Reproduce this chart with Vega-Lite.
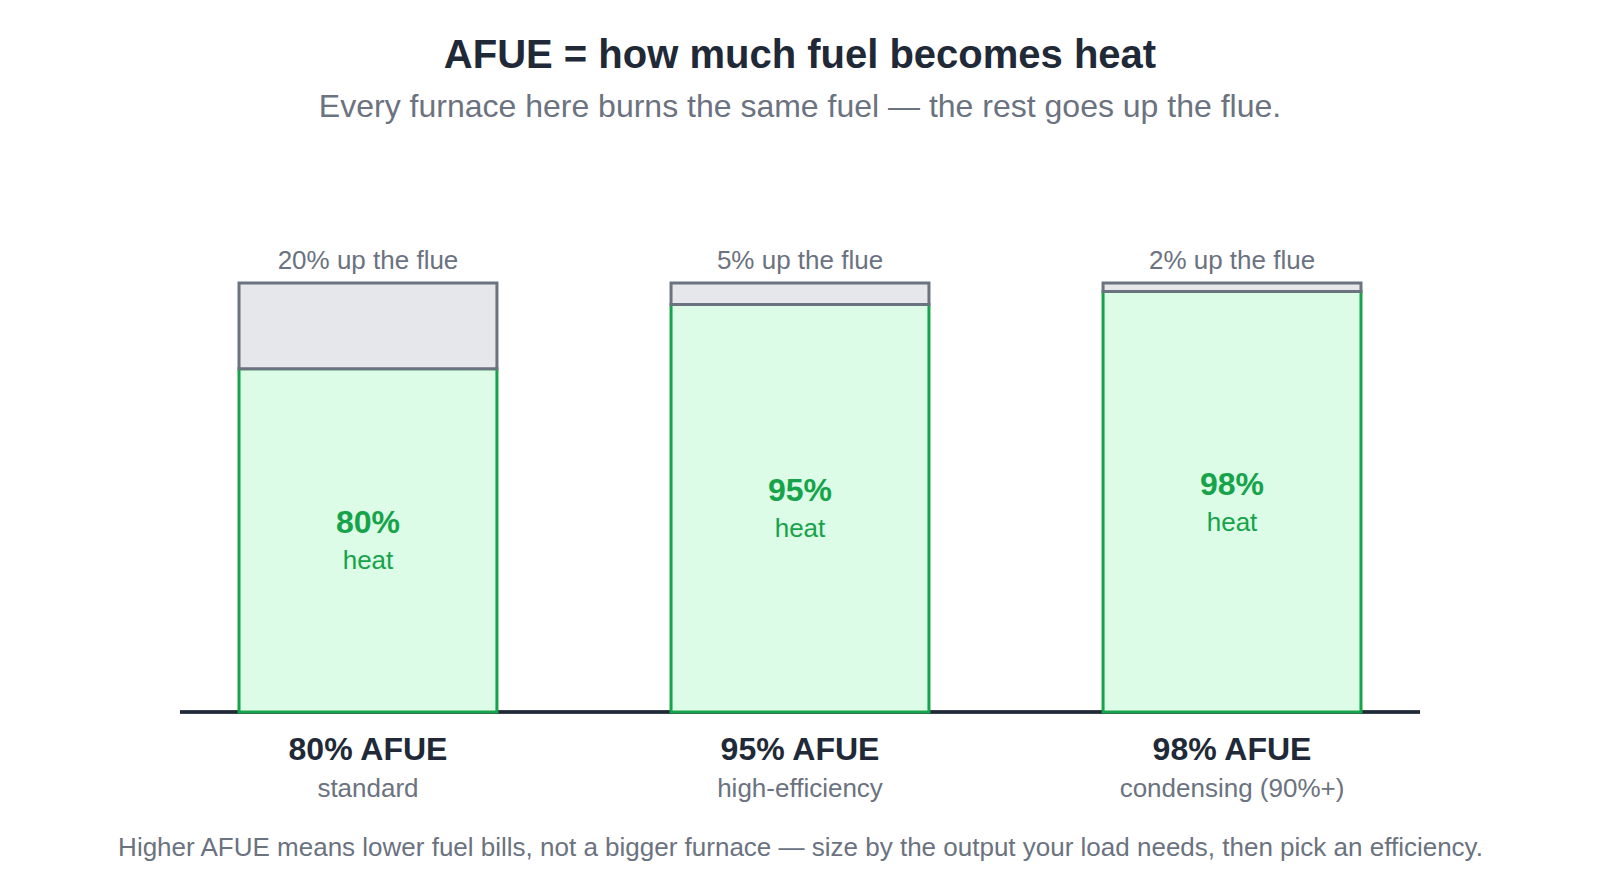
{
  "$schema": "https://vega.github.io/schema/vega-lite/v6.json",
  "width": 1240,
  "height": 429,
  "autosize": {"type": "none"},
  "padding": {"left": 180, "right": 180, "top": 283, "bottom": 168},
  "background": "#ffffff",
  "title": {
    "text": "AFUE = how much fuel becomes heat",
    "subtitle": "Every furnace here burns the same fuel — the rest goes up the flue.",
    "anchor": "middle",
    "frame": "group",
    "font": "Liberation Sans",
    "fontSize": 40,
    "fontWeight": "bold",
    "color": "#1f2937",
    "subtitleFont": "Liberation Sans",
    "subtitleFontSize": 32,
    "subtitleColor": "#6b7280",
    "subtitlePadding": 16,
    "offset": 125
  },
  "data": {
    "values": [
      {"rating": "80% AFUE", "kind": "standard", "heat": 80, "flue": 20, "heatText": "80%", "flueText": "20% up the flue"},
      {"rating": "95% AFUE", "kind": "high-efficiency", "heat": 95, "flue": 5, "heatText": "95%", "flueText": "5% up the flue"},
      {"rating": "98% AFUE", "kind": "condensing (90%+)", "heat": 98, "flue": 2, "heatText": "98%", "flueText": "2% up the flue"}
    ]
  },
  "transform": [{"calculate": "datum.heat / 2", "as": "mid"}],
  "layer": [
    {
      "mark": {"type": "rule", "color": "#1f2937", "strokeWidth": 3},
      "encoding": {
        "y": {"datum": 0, "type": "quantitative", "scale": {"domain": [0, 100], "nice": false, "zero": true}, "axis": null}
      }
    },
    {
      "mark": {"type": "bar", "fill": "#dcfce7", "stroke": "#16a34a", "strokeWidth": 3},
      "encoding": {
        "x": {
          "field": "rating", "type": "nominal", "sort": null,
          "scale": {"paddingInner": 0.403, "paddingOuter": 0.1366},
          "axis": {
            "title": "Higher AFUE means lower fuel bills, not a bigger furnace — size by the output your load needs, then pick an efficiency.",
            "labels": false, "ticks": false, "domain": false, "grid": false,
            "titlePadding": 122,
            "titleFont": "Liberation Sans", "titleFontSize": 26, "titleFontWeight": "normal", "titleColor": "#6b7280"
          }
        },
        "y": {"field": "heat", "type": "quantitative", "axis": null}
      }
    },
    {
      "mark": {"type": "bar", "fill": "#e5e7eb", "stroke": "#6b7280", "strokeWidth": 3},
      "encoding": {
        "x": {"field": "rating", "type": "nominal", "sort": null},
        "y": {"field": "heat", "type": "quantitative"},
        "y2": {"datum": 100}
      }
    },
    {
      "mark": {"type": "text", "font": "Liberation Sans", "fontSize": 26, "color": "#6b7280", "baseline": "middle", "dy": -22},
      "encoding": {
        "x": {"field": "rating", "type": "nominal", "sort": null},
        "y": {"datum": 100, "type": "quantitative"},
        "text": {"field": "flueText"}
      }
    },
    {
      "mark": {"type": "text", "font": "Liberation Sans", "fontSize": 32, "fontWeight": "bold", "color": "#16a34a", "baseline": "middle", "dy": -17},
      "encoding": {
        "x": {"field": "rating", "type": "nominal", "sort": null},
        "y": {"field": "mid", "type": "quantitative"},
        "text": {"field": "heatText"}
      }
    },
    {
      "mark": {"type": "text", "font": "Liberation Sans", "fontSize": 26, "color": "#16a34a", "baseline": "middle", "dy": 21},
      "encoding": {
        "x": {"field": "rating", "type": "nominal", "sort": null},
        "y": {"field": "mid", "type": "quantitative"},
        "text": {"value": "heat"}
      }
    },
    {
      "mark": {"type": "text", "font": "Liberation Sans", "fontSize": 32, "fontWeight": "bold", "color": "#1f2937", "baseline": "middle", "dy": 38},
      "encoding": {
        "x": {"field": "rating", "type": "nominal", "sort": null},
        "y": {"datum": 0, "type": "quantitative"},
        "text": {"field": "rating"}
      }
    },
    {
      "mark": {"type": "text", "font": "Liberation Sans", "fontSize": 26, "color": "#6b7280", "baseline": "middle", "dy": 77},
      "encoding": {
        "x": {"field": "rating", "type": "nominal", "sort": null},
        "y": {"datum": 0, "type": "quantitative"},
        "text": {"field": "kind"}
      }
    }
  ],
  "config": {
    "view": {"stroke": null},
    "font": "Liberation Sans"
  }
}
